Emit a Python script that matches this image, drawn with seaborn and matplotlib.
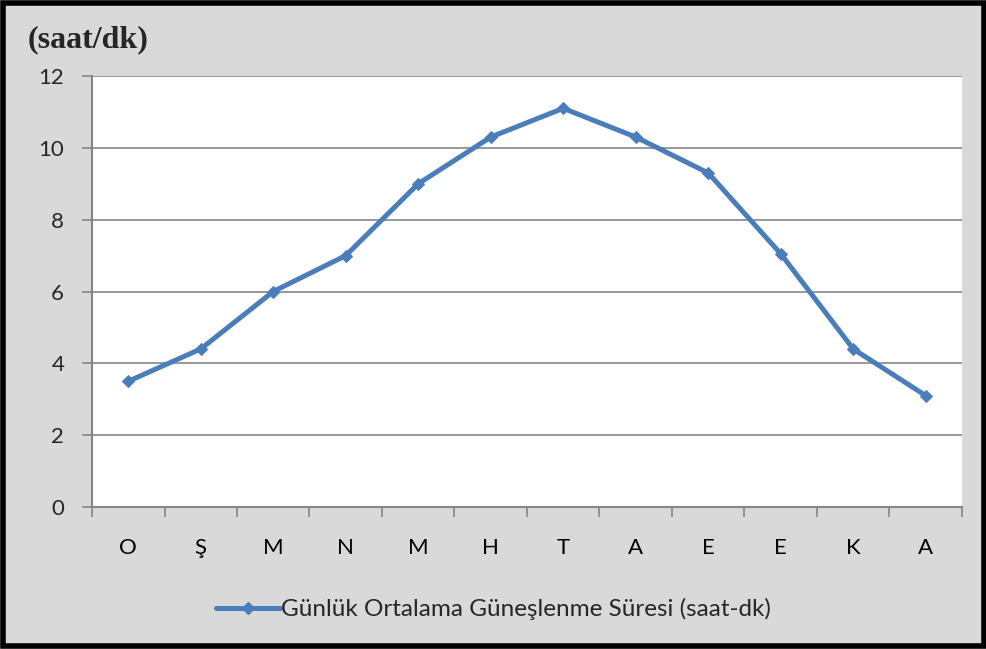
import matplotlib
matplotlib.use("Agg")
import matplotlib.pyplot as plt
import seaborn as sns
import pandas as pd
from matplotlib.patches import Rectangle
from matplotlib.ticker import FixedLocator
from matplotlib.lines import Line2D

months = ["O", "Ş", "M", "N", "M", "H", "T", "A", "E", "E", "K", "A"]
values = [3.5, 4.4, 6.0, 7.0, 9.0, 10.3, 11.1, 10.3, 9.3, 7.05, 4.4, 3.1]
series_name = "Günlük Ortalama Güneşlenme Süresi (saat-dk)"
y_label = "(saat/dk)"
y_ticks = [0, 2, 4, 6, 8, 10, 12]

sns.set_theme(style="white")
plt.rcParams['font.family'] = ['Lato', 'DejaVu Sans']

df = pd.DataFrame({"idx": range(len(months)), "val": values, "series": series_name})

fig = plt.figure(figsize=(9.87, 6.49), dpi=100)
fig.patch.set_facecolor("#d9d9d9")
ax = fig.add_axes([92/987, 1 - 507/649, (962-92)/987, (507-76)/649])
ax.set_facecolor("white")

color = "#4a7ebb"
sns.lineplot(data=df, x="idx", y="val", hue="series", palette=[color], ax=ax,
             marker="D", markersize=6.5, linewidth=3.6, markeredgecolor=color,
             legend=False)

ax.set_xlim(-0.5, len(months) - 0.5)
ax.set_ylim(0, 12)
ax.set_yticks(y_ticks)
ax.set_yticklabels([str(t) for t in y_ticks], fontsize=16)
ax.set_xticks(range(len(months)))
ax.set_xticklabels(months, fontsize=16)
ax.xaxis.set_minor_locator(FixedLocator([i - 0.5 for i in range(len(months) + 1)]))
ax.tick_params(axis="x", which="major", length=0, pad=22, colors="black")
ax.tick_params(axis="x", which="minor", length=7, width=1.2, color="#868686", bottom=True)
ax.tick_params(axis="y", which="major", length=7, width=1.2, color="#868686", left=True, pad=13)
ax.grid(axis="y", color="#868686", linewidth=1.2)
ax.set_axisbelow(True)
for s in ["top", "right"]:
    ax.spines[s].set_visible(False)
for s in ["left", "bottom"]:
    ax.spines[s].set_color("#868686")
    ax.spines[s].set_linewidth(1.5)
ax.set_xlabel("")
ax.set_ylabel("")

fig.text(28/987, 1 - 40/649, y_label, fontsize=23, fontweight="bold",
         family=["Liberation Serif"], va="center", ha="left")

# legend
h = Line2D([0], [0], color=color, linewidth=3.6, marker="D", markersize=6.5,
           markeredgecolor=color)
fig.legend([h], [series_name], loc="center", bbox_to_anchor=(0.5, 1 - 609/649),
           frameon=False, fontsize=17.5, handlelength=2.6, handletextpad=0.05)

# figure border
fig.add_artist(Rectangle((0.003, 0.004), 0.994, 0.991, transform=fig.transFigure,
                         fill=False, edgecolor="black", linewidth=4))

fig.savefig("out.png", dpi=100, facecolor=fig.get_facecolor())
